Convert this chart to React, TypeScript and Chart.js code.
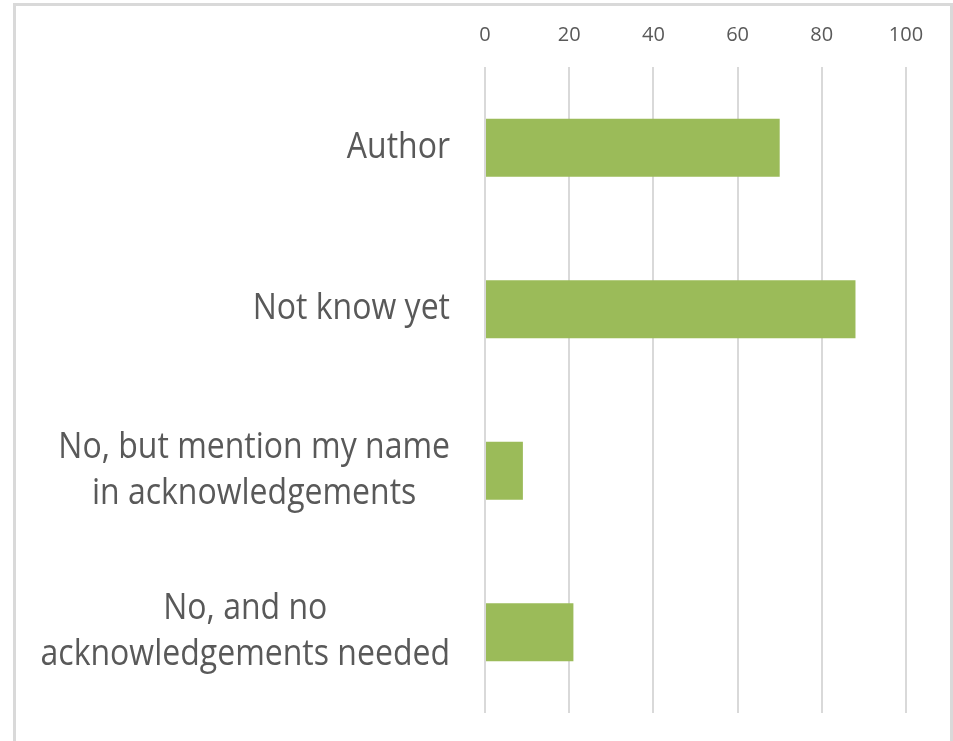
import React, { useEffect, useRef } from "react";
import { Chart, registerables } from "chart.js";

Chart.register(...registerables);

const categories: string[][] = [
  ["Author"],
  ["Not know yet"],
  ["No, but mention my name", "in acknowledgements"],
  ["No, and no", "acknowledgements needed"],
];
const values: number[] = [70, 88, 9, 21];
const xTicks: number[] = [0, 20, 40, 60, 80, 100];

const LABEL_FONT = "32px 'Open Sans'";
const LABEL_COLOR = "#595959";
const STRETCH = 1.12;

const yLabelPlugin = {
  id: "yLabelPlugin",
  afterDraw(chart: any) {
    const ctx = chart.ctx;
    const yScale = chart.scales.y;
    const xR = chart.chartArea.left - 35;
    ctx.save();
    ctx.font = LABEL_FONT;
    ctx.fillStyle = LABEL_COLOR;
    ctx.textAlign = "center";
    ctx.textBaseline = "middle";
    const lineH = 46;
    categories.forEach((lines, i) => {
      const yc = yScale.getPixelForTick(i);
      const w = Math.max(...lines.map((l) => ctx.measureText(l).width));
      const cx = xR - w / 2;
      lines.forEach((l, j) => {
        const y = yc + (j - (lines.length - 1) / 2) * lineH;
        ctx.save();
        ctx.translate(cx, y);
        ctx.scale(1, STRETCH);
        ctx.fillText(l, 0, 0);
        ctx.restore();
      });
    });
    ctx.restore();
  },
};

export default function App() {
  const ref = useRef<HTMLCanvasElement>(null);
  useEffect(() => {
    document.body.style.margin = "0";
    const chart = new Chart(ref.current!, {
      type: "bar",
      data: {
        labels: categories.map((c) => c.join(" ")),
        datasets: [
          {
            data: values,
            backgroundColor: "#9bbb59",
            barPercentage: 0.36,
            categoryPercentage: 1,
          },
        ],
      },
      options: {
        indexAxis: "y",
        responsive: false,
        animation: false,
        layout: { padding: { left: 0, right: 47, top: 0, bottom: 28 } },
        plugins: { legend: { display: false }, tooltip: { enabled: false } },
        scales: {
          x: {
            position: "top",
            min: 0,
            max: 100,
            afterBuildTicks: (scale: any) => {
              scale.ticks = xTicks.map((v) => ({ value: v }));
            },
            afterFit: (scale: any) => {
              scale.height = 67;
            },
            grid: { color: "#d9d9d9", lineWidth: 2, drawTicks: false },
            border: { display: false },
            ticks: {
              color: LABEL_COLOR,
              font: { family: "'Open Sans'", size: 20 },
              padding: 20,
            },
          },
          y: {
            afterFit: (scale: any) => {
              scale.width = 485;
            },
            grid: { display: false },
            border: { display: false },
            ticks: { color: "rgba(0,0,0,0)" },
          },
        },
      },
      plugins: [yLabelPlugin],
    });
    return () => chart.destroy();
  }, []);
  return (
    <div style={{ position: "fixed", left: 0, top: 0, width: 953, height: 741, background: "#fff", overflow: "hidden" }}>
      <div
        style={{
          position: "absolute",
          left: 13,
          top: 3,
          width: 940,
          height: 800,
          boxSizing: "border-box",
          border: "3px solid #d9d9d9",
        }}
      />
      <canvas ref={ref} width={953} height={741} style={{ position: "absolute", left: 0, top: 0 }} />
    </div>
  );
}
